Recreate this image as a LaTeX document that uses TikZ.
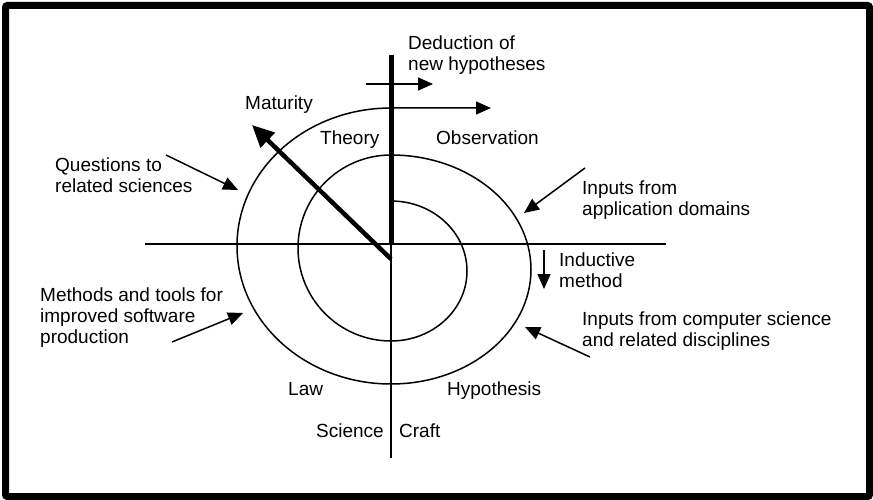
\documentclass[tikz,border=0pt]{standalone}
\usepackage{fontspec}
\setmainfont{Liberation Sans}
\usetikzlibrary{arrows.meta}
\begin{document}
\begin{tikzpicture}[x=1pt,y=1pt,
  lbl/.style={inner sep=0pt, anchor=base west, align=left, font=\fontsize{19}{21}\selectfont},
  thinline/.style={line width=1.5pt},
  axisline/.style={line width=2pt},
  ptr/.style={line width=1.5pt, -{Triangle[length=15pt,width=13pt]}},
  bigptr/.style={line width=4.5pt, -{Triangle[length=22pt,width=20pt]}},
]
\useasboundingbox (0,0) rectangle (873,-500);
% frame
\draw[line width=7pt, rounded corners=2pt] (5.5,-5.5) rectangle (869.5,-496.5);

% axes
\coordinate (o) at (391,-244);
\coordinate (axW) at (145,-244);
\coordinate (axE) at (666,-244);
\coordinate (axN) at (391,-55);
\coordinate (axS) at (391,-458);
\draw[axisline] (axW) -- (axE);
\draw[line width=5pt] (axN) -- (o);
\draw[axisline] (o) -- (axS);

% spiral, ending in the arrow to the right
\coordinate (sp0) at (391,-201);
\coordinate (spEnd) at (491,-108);
\draw[ptr] (sp0)
  arc[start angle=90,end angle=-90,x radius=76,y radius=70]
  arc[start angle=270,end angle=90,x radius=93,y radius=93]
  arc[start angle=90,end angle=-90,x radius=140,y radius=114.5]
  arc[start angle=270,end angle=90,x radius=154,y radius=138]
  -- (spEnd);

% maturity arrow
\coordinate (mat0) at (391,-259);
\coordinate (mat1) at (252,-125);
\draw[bigptr] (mat0) -- (mat1);

% labels (base anchor sits on the last line)
\node[lbl] (ded) at (408,-71) {Deduction of\\new hypotheses};
\node[lbl] (mat) at (245,-110) {Maturity};
\node[lbl] (theory) at (320,-145) {Theory};
\node[lbl] (obs) at (436,-145) {Observation};
\node[lbl] (quest) at (55,-193) {Questions to\\related sciences};
\node[lbl] (inapp) at (582,-215) {Inputs from\\application domains};
\node[lbl] (induct) at (559,-287) {Inductive\\method};
\node[lbl] (incs) at (582,-346) {Inputs from computer science\\and related disciplines};
\node[lbl] (meth) at (40,-343) {Methods and tools for\\improved software\\production};
\node[lbl] (law) at (288,-395) {Law};
\node[lbl] (hyp) at (447,-395) {Hypothesis};
\node[lbl] (sci) at (316,-437) {Science};
\node[lbl] (craft) at (399,-437) {Craft};

% small arrows
\coordinate (ded0) at (366,-84);   \coordinate (ded1) at (433,-84);
\coordinate (ind0) at (544,-250);  \coordinate (ind1) at (544,-289);
\coordinate (q0) at (166,-155);    \coordinate (q1) at (238,-190);
\coordinate (ia0) at (585,-168);   \coordinate (ia1) at (524,-213);
\coordinate (ic0) at (590,-357);   \coordinate (ic1) at (525,-327);
\coordinate (m0) at (172,-342);    \coordinate (m1) at (243,-313);
\draw[ptr] (ded0) -- (ded1);
\draw[ptr] (ind0) -- (ind1);
\draw[ptr] (q0) -- (q1);
\draw[ptr] (ia0) -- (ia1);
\draw[ptr] (ic0) -- (ic1);
\draw[ptr] (m0) -- (m1);
\end{tikzpicture}
\end{document}
